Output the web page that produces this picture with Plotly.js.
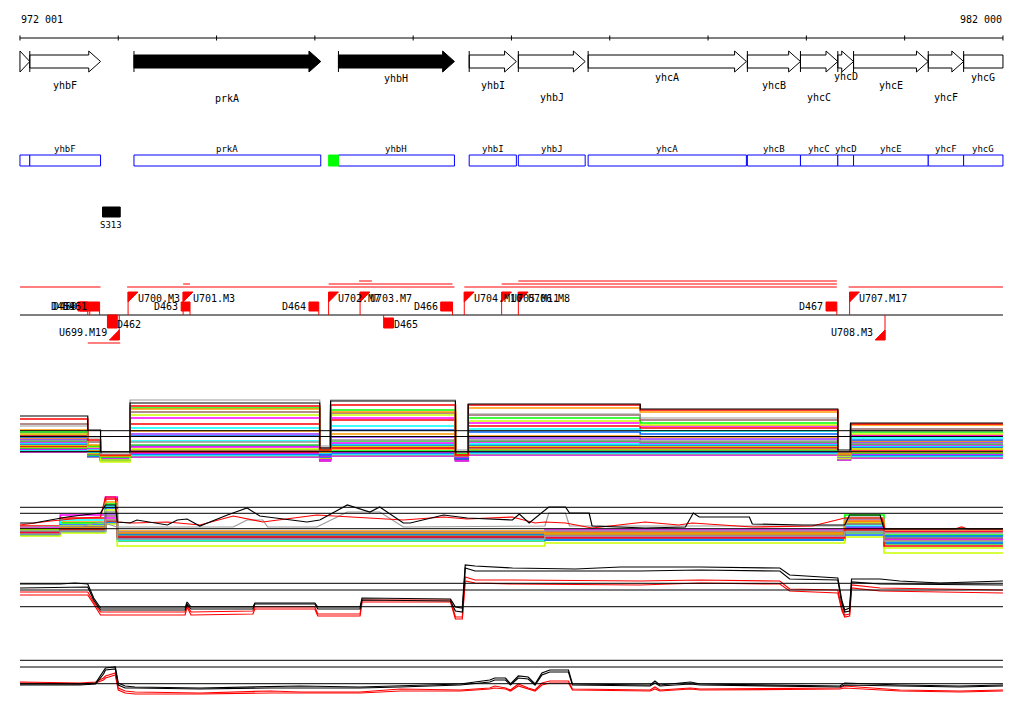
<!DOCTYPE html>
<html><head><meta charset="utf-8">
<script src="https://cdn.plot.ly/plotly-3.0.1.min.js"></script>
<style>html,body{margin:0;padding:0;background:#fff}#chart{width:1024px;height:714px}</style>
</head><body><div id="chart"></div>
<script>
// ================= DATA (genomic positions in kb) =================
const rulerLabels = ['972 001', '982 000'];
const rulerTicks = [972.0, 973.0, 974.0, 975.0, 976.0, 977.0, 978.0, 979.0, 980.0, 981.0, 982.0];

const geneNames  = ['', 'yhbF', 'prkA', 'yhbH', 'yhbI', 'yhbJ', 'yhcA', 'yhcB', 'yhcC', 'yhcD', 'yhcE', 'yhcF', 'yhcG'];
const geneStart  = [972.00, 972.10, 973.16, 975.24, 976.57, 977.07, 977.78, 979.40, 979.94, 980.32, 980.48, 981.24, 981.60];
const geneEnd    = [972.10, 972.82, 975.06, 976.42, 977.05, 977.75, 979.39, 979.94, 980.32, 980.48, 981.24, 981.60, 982.00];
const geneFilled = [0, 0, 1, 1, 0, 0, 0, 0, 0, 0, 0, 0, 0];
const geneTrunc  = [0, 0, 0, 0, 0, 0, 0, 0, 0, 0, 0, 0, 1];

const greenStart = [975.14];
const greenEnd   = [975.24];

const siteNames = ['S313'];
const siteStart = [972.84];
const siteEnd   = [973.02];

const uAboveNames = ['U700.M3', 'U701.M3', 'U702.M7', 'U703.M7', 'U704.M10', 'U705.M11', 'U706.M8', 'U707.M17'];
const uAbovePos   = [973.10, 973.66, 975.14, 975.46, 976.52, 976.90, 977.07, 980.44];
const uBelowNames = ['U699.M19', 'U708.M3'];
const uBelowPos   = [973.01, 980.80];

const dAboveNames = ['D459', 'D460', 'D461', 'D463', 'D464', 'D466', 'D467'];
const dAboveStart = [972.59, 972.61, 972.71, 973.64, 974.94, 976.28, 980.20];
const dAboveEnd   = [972.69, 972.71, 972.81, 973.73, 975.04, 976.40, 980.31];
const dBelowNames = ['D462', 'D465'];
const dBelowStart = [972.89, 975.70];
const dBelowEnd   = [972.99, 975.80];

const rangeStart = [972.00, 973.09, 976.52, 980.43, 975.14, 976.90, 973.66, 975.45, 977.07, 972.69];
const rangeEnd   = [972.82, 976.42, 980.31, 982.00, 976.40, 980.31, 973.73, 975.58, 980.31, 973.02];
const rangeTier  = [0, 0, 0, 0, 1, 1, 1, 2, 2, 3];

// ---- track A (many profiles, step segments) ----
const trackAx = [972.00, 972.69, 972.82, 973.12, 975.05, 975.16, 976.43, 976.56, 978.31, 980.32, 980.45, 982.00];
const trackAvalues = [
  [54, 40, 18, 67, 22, 69, 18, 66, 61, 20, 47],
  [44, 32, 16, 70, 24, 70, 20, 56, 52, 18, 39],
  [51, 30, 15, 64, 20, 65, 15, 65, 60, 18, 46],
  [40, 25, 14, 61, 18, 58, 15, 62, 58, 16, 45],
  [46, 28, 15, 58, 22, 57, 14, 55, 50, 15, 41],
  [38, 24, 13, 62, 20, 60, 16, 52, 47, 17, 38],
  [36, 23, 10, 55, 18, 55, 14, 49, 45, 14, 36],
  [37, 22, 12, 52, 19, 52, 13, 47, 44, 16, 35],
  [35, 24, 14, 46, 20, 50, 15, 44, 42, 15, 34],
  [34, 21, 12, 42, 17, 44, 14, 41, 39, 14, 32],
  [33, 22, 11, 34, 15, 40, 12, 38, 36, 15, 30],
  [32, 20, 13, 39, 18, 36, 13, 34, 33, 16, 29],
  [31, 21, 12, 36, 16, 33, 12, 32, 31, 14, 28],
  [30, 19, 14, 28, 15, 30, 14, 30, 29, 13, 27],
  [29, 20, 11, 25, 17, 29, 13, 29, 28, 15, 26],
  [28, 19, 12, 23, 14, 27, 12, 28, 27, 13, 25],
  [27, 18, 13, 29, 15, 26, 14, 26, 26, 14, 24],
  [26, 18, 10, 24, 13, 25, 11, 25, 25, 13, 23],
  [25, 17, 8, 21, 12, 24, 12, 24, 24, 12, 21],
  [24, 17, 12, 18, 12, 22, 11, 23, 23, 13, 20],
  [24, 16, 13, 20, 14, 23, 14, 22, 22, 14, 22],
  [23, 16, 11, 19, 13, 21, 11, 21, 21, 12, 18],
  [22, 15, 10, 20, 14, 19, 13, 20, 20, 13, 17],
  [21, 15, 10, 17, 10, 18, 10, 19, 19, 12, 16],
  [21, 14, 12, 16, 11, 17, 12, 18, 18, 13, 15],
  [20, 14, 11, 15, 12, 16, 11, 17, 17, 12, 14],
  [19, 13, 9, 14, 10, 15, 10, 16, 16, 11, 13],
  [18, 13, 10, 13, 9, 14, 9, 15, 15, 10, 12]
];
const trackArefs = [39.3, 33.5, 18.3];

// ---- track B ----
const trackBx = [972.00, 972.41, 972.87, 972.99, 977.34, 980.39, 980.79, 982.00];
const trackBvalues = [
  [27, 40, 58, 23, 25, 35, 24],
  [29, 37, 56, 22, 23, 33, 23],
  [26, 33, 53, 24, 22, 37, 25],
  [25, 32, 51, 20, 21, 40, 20],
  [24, 35, 49, 19, 20, 30, 18],
  [23, 30, 47, 21, 19, 28, 19],
  [25, 29, 45, 17, 18, 32, 2],
  [24, 28, 43, 23, 24, 36, 22],
  [22, 27, 41, 18, 17, 27, 16],
  [23, 28, 39, 19, 20, 31, 17],
  [22, 26, 37, 16, 18, 26, 15],
  [21, 27, 35, 22, 21, 34, 14],
  [21, 25, 34, 14, 15, 22, 11],
  [20, 24, 33, 15, 16, 24, 13],
  [20, 23, 32, 17, 15, 20, 12],
  [19, 22, 31, 9, 12, 18, 7],
  [22, 25, 34, 18, 17, 25, 9],
  [21, 24, 35, 16, 19, 23, 14]
];
const trackBblackX = [972.00,972.14,972.31,972.48,972.64,972.82,972.87,972.97,972.99,973.12,973.19,973.50,973.60,973.70,973.83,974.11,974.31,974.44,974.52,974.92,975.05,975.33,975.56,975.66,975.90,975.97,976.31,976.55,977.01,977.08,977.18,977.24,977.38,977.55,977.59,977.79,977.82,978.36,978.77,978.85,978.91,979.42,979.45,979.96,980.39,980.44,980.75,980.79,982.00];
const trackBblackY = [32,32,35,38,40,42,50,50,33,32,35,30,35,36,29,40,47,39,38,33,35,50,43,48,32,32,40,37,35,41,32,37,48,48,42,42,29,27,28,42,38,38,31,30,30,40,40,26,26];
const trackBredX = [972.00,972.31,972.64,972.82,972.87,972.97,972.99,973.15,973.50,973.83,974.17,974.47,975.02,975.90,976.31,976.55,977.01,977.24,977.34,977.55,977.82,978.36,978.70,978.84,979.45,980.06,980.39,980.77,980.80,981.51,981.58,981.64,982.00];
const trackBredY = [30,34,37,38,58,58,33,32,33,30,39,33,40,35,38,36,38,32,33,32,27,33,30,32,28,29,37,37,26,26,28,26,26];
const trackBgrayX = [972.00,972.64,972.82,972.99,974.17,974.31,974.47,974.52,975.02,975.33,975.66,975.90,977.34,977.38,977.55,977.59,980.39,980.44,980.75,980.79,982.00];
const trackBgrayY = [28,29,33,28,28,35,35,28,28,43,43,28,29,42,42,29,29,38,38,26,26];
const trackBrefs = [47.7, 41.7, 26.3];

// ---- track C ----
const trackCtopX = [972.00,972.41,972.56,972.69,972.75,972.82,973.68,973.70,973.74,974.37,974.39,975.00,975.03,975.46,975.48,976.38,976.43,976.50,976.53,976.63,977.01,977.65,978.11,978.92,979.73,979.83,980.32,980.36,980.39,980.44,980.46,980.75,980.95,981.36,982.00];
const trackCtopBlack = [41,41,42,41,27,17,17,23,18,18,22,22,18,18,27,26,18,17,60,59,57,56,58,58,57,50,47,25,15,17,46,46,44,42,44];
const trackCx = [972.00,972.69,972.75,972.82,973.68,973.70,973.74,974.37,974.39,975.00,975.03,975.46,975.48,976.38,976.43,976.50,976.53,976.63,977.01,978.31,978.92,979.73,979.83,980.32,980.36,980.39,980.44,980.46,980.75,982.00];
const trackCblack2 = [37,38,25,15,15,21,16,16,21,21,16,16,25,24,14,13,57,54,54,54,55,54,46,45,22,13,14,43,41,40];
const trackCred1   = [33,33,23,13,13,20,13,14,18,18,11,11,25,25,8,8,48,45,45,44,45,44,36,35,17,10,11,40,37,35];
const trackCred2   = [30,30,21,10,10,18,10,11,16,16,9,9,23,23,6,6,44,42,41,40,42,41,34,32,15,8,9,37,34,32];
const trackCrefs = [41.7, 35, 18.3];

// ---- track D ----
const trackDx = [972.00,972.61,972.77,972.85,972.87,972.97,973.00,973.07,973.17,973.83,974.55,974.85,975.46,975.87,976.48,976.78,976.83,976.94,976.99,977.07,977.17,977.24,977.31,977.39,977.58,977.62,978.41,978.46,978.51,978.82,978.92,980.34,980.39,980.95,981.56,982.00];
const trackDblack1 = [16,16,17,28,32,33,17,14,13,12,13,14,13,14,16,20,22,22,16,24,23,16,27,30,30,16,15,19,15,18,16,14,17,15,14,15];
const trackDblack2 = [15,15,16,26,30,31,15,12,12,11,12,12,12,13,15,18,20,20,15,22,21,15,25,28,28,15,14,17,14,16,15,13,15,14,13,14];
const trackDred1   = [18,17,18,22,24,27,12,9,8,7,9,8,8,11,10,12,14,12,10,16,12,10,17,19,19,11,10,13,10,12,11,12,14,10,9,10];
const trackDred2   = [17,16,17,20,22,25,10,7,6,6,7,7,7,9,9,11,12,11,9,14,11,9,15,17,17,10,9,11,9,11,10,11,12,9,8,9];
const trackDrefs = [39.7, 33, 16.3];

// ================= STYLE / LAYOUT CONSTANTS =================
const paletteA = ['#000000','#999999','#ff0000','#ff9900','#996666','#00ff00','#ccff00','#ff00ff','#ff0000','#00ffff','#0066ff','#ff9900','#9933ff','#999999','#33cc33','#ff00ff','#00ffff','#0066ff','#ccff00','#ff0000','#996666','#ff9900','#00ff00','#ff00ff','#0066ff','#00ffff','#999999','#cc00cc'];
const paletteB = ['#ff00ff','#ff0000','#ff9900','#00ff00','#00ffff','#0066ff','#ccff00','#999999','#9933ff','#996666','#ff00ff','#ff9900','#33cc33','#00ffff','#0066ff','#ccff00','#ff0000','#999999'];
const geneLabelRowY = [0, 85, 98, 78, 85, 97, 77, 85, 97, 76, 85, 97, 77];
const tierY = [287, 284, 281, 343];
const FONT = 'DejaVu Sans Mono';
const HEAD = 0.12;
const X0 = 972.00, X1 = 982.00;

const shapes = [];
const ann = [];
function L(x0,y0,x1,y1,color,yref){shapes.push({type:'line',xref:'x',yref:yref||'y',x0,y0,x1,y1,line:{color:color||'#000',width:1}});}
function R(x0,y0,x1,y1,stroke,fill){shapes.push({type:'rect',xref:'x',yref:'y',x0,y0,x1,y1,line:{color:stroke,width:1},fillcolor:fill});}
function P(d,stroke,fill){shapes.push({type:'path',xref:'x',yref:'y',path:d,line:{color:stroke,width:1},fillcolor:fill});}
function T(x,y,text,xanchor,size){ann.push({x,y,xref:'x',yref:'y',text,showarrow:false,xanchor:xanchor||'center',yanchor:'middle',borderpad:0,font:{family:FONT,size:size||10,color:'#000'}});}

// ruler
L(X0,38,X1,38);
rulerTicks.forEach(t=>L(t,35.5,t,40.5));
T(X0,19,rulerLabels[0],'left');
T(X1,19,rulerLabels[1],'right');

// genes
geneNames.forEach((n,i)=>{
  const a=geneStart[i], b=geneEnd[i];
  const fill=geneFilled[i]?'#000000':'#ffffff';
  let d;
  if(geneTrunc[i]) d=`M${a},55 L${b},55 L${b},68 L${a},68 Z`;
  else if(b-a<=HEAD) d=`M${a},51 L${b},61.5 L${a},72 Z`;
  else {const h=b-HEAD; d=`M${a},55 L${h},55 L${h},51 L${b},61.5 L${h},72 L${h},68 L${a},68 Z`;}
  P(d,'#000000',fill);
  if(n){ L(a,51,a,72); T((a+b)/2,geneLabelRowY[i],n,'center'); }
});

// blue gene boxes
geneNames.forEach((n,i)=>{
  R(geneStart[i],155,geneEnd[i],166,'#0000ff','#ffffff');
  if(n) T((geneStart[i]+geneEnd[i])/2,149,n,'center',9);
});
greenStart.forEach((s,i)=>R(s,155,greenEnd[i],166,'#00ff00','#00ff00'));

// site
siteNames.forEach((n,i)=>{R(siteStart[i],207,siteEnd[i],217,'#000000','#000000'); T((siteStart[i]+siteEnd[i])/2,225,n,'center',9);});

// features
rangeStart.forEach((s,i)=>L(s,tierY[rangeTier[i]],rangeEnd[i],tierY[rangeTier[i]],'#ff0000'));
L(X0,315,X1,315);
uAbovePos.forEach((x,i)=>{
  L(x,315,x,292,'#ff0000');
  P(`M${x},292 L${x+0.10},292 L${x},302 Z`,'#ff0000','#ff0000');
  T(x+0.09,298,uAboveNames[i],'left');
});
uBelowPos.forEach((x,i)=>{
  L(x,315,x,340,'#ff0000');
  P(`M${x},330 L${x},340 L${x-0.10},340 Z`,'#ff0000','#ff0000');
  T(x-0.11,332,uBelowNames[i],'right');
});
dAboveStart.forEach((s,i)=>{
  R(s,302,dAboveEnd[i],311,'#ff0000','#ff0000');
  L(dAboveEnd[i],311,dAboveEnd[i],315,'#ff0000');
  T(s-0.02,306,dAboveNames[i],'right');
});
dBelowStart.forEach((s,i)=>{
  const top = i===0?315:318;
  R(s,top,dBelowEnd[i],328,'#ff0000','#ff0000');
  L(s,315,s,top,'#ff0000');
  T(dBelowEnd[i]-0.01,324,dBelowNames[i],'left');
});

// reference lines of profile tracks
trackArefs.forEach(v=>L(X0,v,X1,v,'#000','y2'));
trackBrefs.forEach(v=>L(X0,v,X1,v,'#000','y3'));
trackCrefs.forEach(v=>L(X0,v,X1,v,'#000','y4'));
trackDrefs.forEach(v=>L(X0,v,X1,v,'#000','y5'));

// ================= TRACES =================
const traces = [{x:[X0],y:[0],xaxis:'x',yaxis:'y',mode:'markers',marker:{opacity:0},hoverinfo:'skip'}];
function step(xs,vals,color,yaxis,w){
  traces.push({x:xs,y:vals.concat([vals[vals.length-1]]),xaxis:'x',yaxis,mode:'lines',line:{color,width:w||1.5,shape:'hv'},hoverinfo:'skip'});
}
function lin(xs,ys,color,yaxis){
  traces.push({x:xs,y:ys,xaxis:'x',yaxis,mode:'lines',line:{color,width:1.2},hoverinfo:'skip'});
}
for(let i=trackAvalues.length-1;i>=0;i--) step(trackAx,trackAvalues[i],paletteA[i],'y2',i<2?1.2:1.6);
trackBvalues.forEach((v,i)=>step(trackBx,v,paletteB[i],'y3',1.6));
lin(trackBgrayX,trackBgrayY,'#999999','y3');
lin(trackBredX,trackBredY,'#ff0000','y3');
lin(trackBblackX,trackBblackY,'#000000','y3');
lin(trackCx,trackCred2,'#ff0000','y4');
lin(trackCx,trackCred1,'#ff0000','y4');
lin(trackCx,trackCblack2,'#000000','y4');
lin(trackCtopX,trackCtopBlack,'#000000','y4');
lin(trackDx,trackDred2,'#ff0000','y5');
lin(trackDx,trackDred1,'#ff0000','y5');
lin(trackDx,trackDblack2,'#000000','y5');
lin(trackDx,trackDblack1,'#000000','y5');

const H=714;
function dom(top,bottom){return [1-bottom/H,1-top/H];}
const ax = {visible:false,fixedrange:true,showgrid:false,zeroline:false};
const layout = {
  width:1024,height:714,margin:{l:0,r:0,t:0,b:0},
  paper_bgcolor:'#ffffff',plot_bgcolor:'#ffffff',showlegend:false,hovermode:false,
  xaxis:Object.assign({range:[971.797,982.214],anchor:'y',domain:[0,1]},ax),
  yaxis:Object.assign({range:[714,0],domain:[0,1],anchor:'x'},ax),
  yaxis2:Object.assign({range:[0,90],domain:dom(380,470),anchor:'x'},ax),
  yaxis3:Object.assign({range:[0,65],domain:dom(490,555),anchor:'x'},ax),
  yaxis4:Object.assign({range:[0,65],domain:dom(560,625),anchor:'x'},ax),
  yaxis5:Object.assign({range:[0,50],domain:dom(650,700),anchor:'x'},ax),
  shapes:shapes,annotations:ann
};
Plotly.newPlot('chart',traces,layout,{staticPlot:true,displayModeBar:false});
</script></body></html>
